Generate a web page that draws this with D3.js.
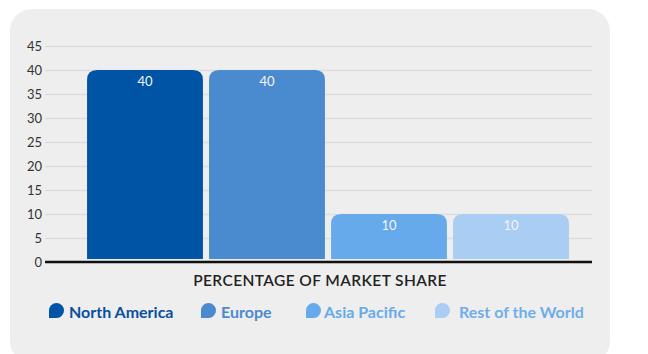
<!DOCTYPE html>
<html>
<head>
<meta charset="utf-8">
<script src="https://cdn.jsdelivr.net/npm/d3@7"></script>
<style>
  html, body { margin: 0; padding: 0; background: #ffffff; }
  svg { display: block; }
</style>
</head>
<body>
<svg id="chart" width="648" height="354"></svg>
<script>
const categories = ["North America", "Europe", "Asia Pacific", "Rest of the World"];
const values = [40, 40, 10, 10];
const barColors = ["#0054a6", "#4a8bcf", "#66aaeb", "#a9cdf3"];
const legendTextColors = ["#0a4f9f", "#4a8bcf", "#66aaeb", "#6faeea"];
const yTicks = [0, 5, 10, 15, 20, 25, 30, 35, 40, 45];
const axisTitle = "PERCENTAGE OF MARKET SHARE";

const svg = d3.select("#chart");
const font = "Lato, 'Open Sans', sans-serif";

// card background
svg.append("rect")
  .attr("x", 10).attr("y", 9).attr("width", 600).attr("height", 354)
  .attr("rx", 22).attr("ry", 22)
  .attr("fill", "#eeeeee");

const y = d3.scaleLinear().domain([0, 45]).range([262, 46]);
const x = d3.scaleBand().domain(categories).range([84, 572]).paddingInner(0.05).paddingOuter(0.025);

// gridlines
const yAxis = d3.axisLeft(y).tickValues(yTicks).tickSize(-547).tickPadding(4);
const gAxis = svg.append("g").attr("transform", "translate(45,0)").call(yAxis);
gAxis.select(".domain").remove();
gAxis.selectAll(".tick line").attr("stroke", "#dddddd").attr("stroke-width", 1.5);
gAxis.selectAll(".tick text")
  .attr("fill", "#333333")
  .attr("font-family", font)
  .attr("font-size", 13)
  .attr("x", -3);

// bars with rounded top corners
const r = 10;
function barPath(d) {
  const x0 = x(d.c), w = x.bandwidth();
  const top = y(d.v), bottom = y(0) - 3;
  const rr = Math.min(r, (bottom - top));
  return `M${x0},${bottom}V${top + rr}Q${x0},${top} ${x0 + rr},${top}H${x0 + w - rr}Q${x0 + w},${top} ${x0 + w},${top + rr}V${bottom}Z`;
}
const data = categories.map((c, i) => ({ c, v: values[i], i }));
svg.append("g").selectAll("path").data(data).join("path")
  .attr("d", barPath)
  .attr("fill", d => barColors[d.i]);

// value labels
svg.append("g").selectAll("text").data(data).join("text")
  .attr("x", d => x(d.c) + x.bandwidth() / 2)
  .attr("y", d => y(d.v) + 15.5)
  .attr("text-anchor", "middle")
  .attr("fill", "#f4f4f4")
  .attr("font-family", font)
  .attr("font-size", 13)
  .text(d => d.v);

// baseline
svg.append("line")
  .attr("x1", 45).attr("x2", 592)
  .attr("y1", y(0)).attr("y2", y(0))
  .attr("stroke", "#111111").attr("stroke-width", 2.5);

// axis title
svg.append("text")
  .attr("x", 320).attr("y", 286)
  .attr("text-anchor", "middle")
  .attr("fill", "#222222")
  .attr("font-family", font)
  .attr("font-weight", 600)
  .attr("font-size", 15.5)
  .attr("letter-spacing", 0.4)
  .text(axisTitle);

// legend
const legendX = [49, 201, 306, 435];
const legendTextX = [69, 221, 324, 459];
function markerPath(x0, y0, s) {
  const h = s / 2;
  return `M${x0},${y0 + s}V${y0 + h}A${h},${h} 0 0 1 ${x0 + h},${y0}A${h},${h} 0 0 1 ${x0 + s},${y0 + h}A${h},${h} 0 0 1 ${x0 + h},${y0 + s}Z`;
}
const lg = svg.append("g");
lg.selectAll("path").data(data).join("path")
  .attr("d", d => markerPath(legendX[d.i], 303, 15))
  .attr("fill", d => barColors[d.i]);
lg.selectAll("text").data(data).join("text")
  .attr("x", d => legendTextX[d.i])
  .attr("y", 318)
  .attr("fill", d => legendTextColors[d.i])
  .attr("font-family", font)
  .attr("font-weight", 700)
  .attr("font-size", 16)
  .text(d => d.c);
</script>
</body>
</html>
